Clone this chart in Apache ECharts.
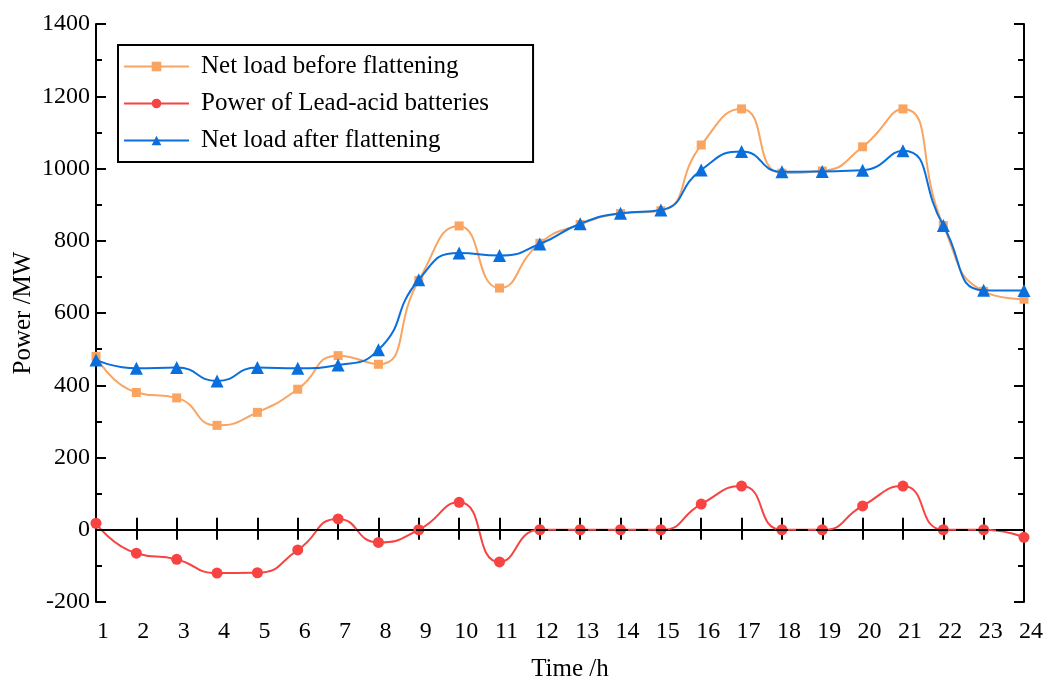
<!DOCTYPE html>
<html>
<head>
<meta charset="utf-8">
<script src="https://cdn.jsdelivr.net/npm/echarts@6/dist/echarts.min.js"></script>
<style>
  html, body { margin: 0; padding: 0; background: #fff; }
  #chart { width: 1051px; height: 677px; }
</style>
</head>
<body>
<div id="chart"></div>
<script>
// Hours of the day
const hours = ['1','2','3','4','5','6','7','8','9','10','11','12','13','14','15','16','17','18','19','20','21','22','23','24'];

// Net load before flattening (MW)
const netLoadBefore = [480, 380, 365, 289, 325, 389, 482, 458, 690, 841, 669, 793, 845, 875, 883, 1065, 1165, 987, 993, 1060, 1165, 842, 660, 638];

// Charge/discharge power of lead-acid batteries (MW)
const batteryPower = [18, -65, -82, -120, -119, -56, 30, -35, 0, 76, -89, 0, 0, 0, 0, 71, 121, 0, 0, 66, 121, 0, 0, -21];

// Net load after flattening (MW)
const netLoadAfter = [470, 447, 449, 412, 449, 447, 456, 498, 692, 766, 759, 791, 847, 876, 885, 996, 1047, 991, 992, 995, 1049, 842, 663, 662];

const FONT = '"Liberation Serif", "Times New Roman", serif';
const C_ORANGE = '#F9A461';
const C_RED = '#F84343';
const C_BLUE = '#0A6FDC';
const SMOOTH = 0.55;

const chart = echarts.init(document.getElementById('chart'), null, { renderer: 'canvas' });

const axisLine = { show: true, lineStyle: { color: '#000', width: 2 } };
const yScale = { type: 'value', min: -200, max: 1400, interval: 200 };
const plainNumber = v => String(v);

chart.setOption({
  animation: false,
  backgroundColor: '#fff',
  grid: { left: 96, right: 27, top: 24, bottom: 75, containLabel: false, outerBoundsMode: 'none' },
  legend: {
    orient: 'vertical',
    left: 118,
    top: 45,
    padding: [9, 44, 9, 5],
    itemGap: 12,
    itemWidth: 65,
    itemHeight: 12,
    borderColor: '#000',
    borderWidth: 2,
    textStyle: { fontFamily: FONT, fontSize: 25, color: '#000', padding: [0, 0, 0, 7] },
    data: ['Net load before flattening', 'Power of Lead-acid batteries', 'Net load after flattening']
  },
  xAxis: [
    {
      type: 'category',
      data: hours,
      boundaryGap: false,
      name: 'Time /h',
      nameLocation: 'middle',
      nameGap: 55,
      nameMoveOverlap: false,
      nameTextStyle: { fontFamily: FONT, fontSize: 25, color: '#000', padding: [0, 0, 0, 20] },
      axisLine: axisLine,
      axisTick: { show: true, inside: true, length: 12, lineStyle: { color: '#000', width: 2 } },
      axisLabel: { fontFamily: FONT, fontSize: 24, color: '#000', margin: 18, padding: [0, 0, 0, 14] },
      splitLine: { show: false }
    },
    {
      type: 'category',
      data: hours,
      boundaryGap: false,
      position: 'top',
      axisLine: axisLine,
      axisTick: { show: true, inside: true, length: 10, lineStyle: { color: '#000', width: 2 } },
      axisLabel: { show: false },
      splitLine: { show: false }
    }
  ],
  yAxis: [
    Object.assign({}, yScale, {
      name: 'Power /MW',
      nameLocation: 'middle',
      nameGap: 60,
      nameMoveOverlap: false,
      nameRotate: 90,
      nameTextStyle: { fontFamily: FONT, fontSize: 25, color: '#000' },
      axisLine: axisLine,
      axisTick: { show: true, inside: true, length: 10, lineStyle: { color: '#000', width: 2 } },
      minorTick: { show: true, splitNumber: 2, length: 6, lineStyle: { color: '#000', width: 2 } },
      axisLabel: { fontFamily: FONT, fontSize: 24, color: '#000', margin: 6, formatter: plainNumber },
      splitLine: { show: false }
    }),
    Object.assign({}, yScale, {
      position: 'right',
      axisLine: axisLine,
      axisTick: { show: true, inside: true, length: 10, lineStyle: { color: '#000', width: 2 } },
      minorTick: { show: true, splitNumber: 2, length: 6, lineStyle: { color: '#000', width: 2 } },
      axisLabel: { show: false },
      splitLine: { show: false }
    })
  ],
  series: [
    {
      name: 'Net load before flattening',
      type: 'line',
      data: netLoadBefore,
      smooth: SMOOTH,
      symbol: 'rect',
      symbolSize: 9,
      itemStyle: { color: C_ORANGE },
      lineStyle: { color: C_ORANGE, width: 2 },
      z: 2
    },
    {
      name: 'Power of Lead-acid batteries',
      type: 'line',
      data: batteryPower,
      smooth: SMOOTH,
      symbol: 'circle',
      symbolSize: 11,
      itemStyle: { color: C_RED },
      lineStyle: { color: C_RED, width: 2 },
      markLine: {
        silent: true,
        symbol: ['none', 'none'],
        label: { show: false },
        lineStyle: { color: '#000', type: [12, 8], width: 2 },
        data: [{ yAxis: 0 }]
      },
      z: 3
    },
    {
      name: 'Net load after flattening',
      type: 'line',
      data: netLoadAfter,
      smooth: SMOOTH,
      symbol: 'triangle',
      symbolSize: 13,
      itemStyle: { color: C_BLUE },
      lineStyle: { color: C_BLUE, width: 2 },
      z: 4
    }
  ]
});
</script>
</body>
</html>
